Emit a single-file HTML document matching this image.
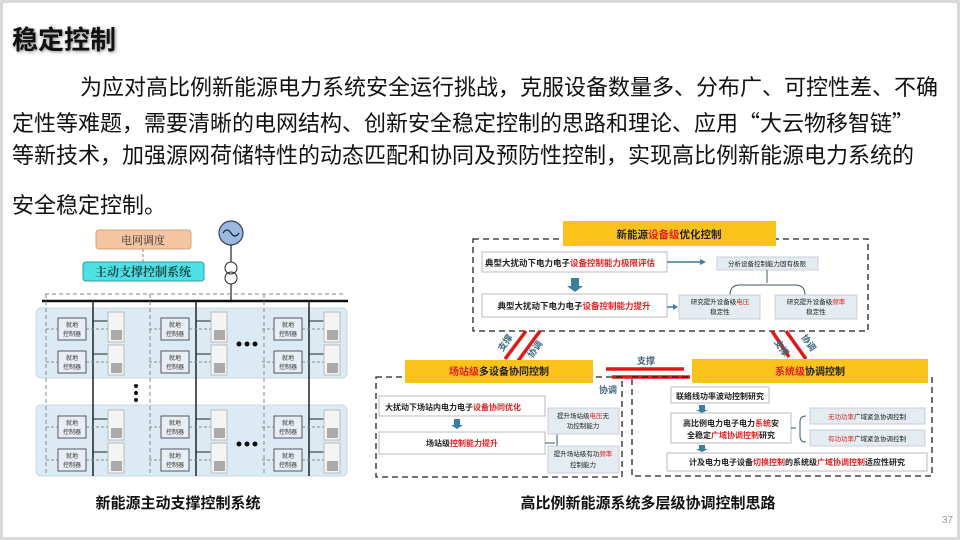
<!DOCTYPE html>
<html><head><meta charset="utf-8"><style>
body{margin:0;width:960px;height:540px;overflow:hidden;background:#fff;font-family:"Liberation Sans","Noto Sans CJK SC",sans-serif;}
.frame{position:absolute;left:0;top:0;width:954px;height:534px;border:3px solid #d9d9d9;}
.t{position:absolute;white-space:nowrap;}
.p{position:absolute;white-space:nowrap;font-size:22px;color:#111;line-height:1;}
.q{font-family:"Noto Sans CJK SC",sans-serif;}
</style></head><body>
<div class="frame"></div>
<div class="t" style="left:12px;top:20px;font-size:26px;font-weight:bold;color:#111;text-shadow:1px 1px 3px #888;">稳定控制</div>
<div class="p" style="left:80px;top:77px;">为应对高比例新能源电力系统安全运行挑战，克服设备数量多、分布广、可控性差、不确</div>
<div class="p" style="left:12px;top:111px;">定性等难题，需要清晰的电网结构、创新安全稳定控制的思路和理论、应用<span class="q">“</span>大云物移智链<span class="q">”</span></div>
<div class="p" style="left:12px;top:145px;">等新技术，加强源网荷储特性的动态匹配和协同及预防性控制，实现高比例新能源电力系统的</div>
<div class="p" style="left:12px;top:195px;">安全稳定控制。</div>

<svg style="position:absolute;left:0;top:0" width="960" height="540" font-family="Liberation Sans,Noto Sans CJK SC,sans-serif">
<rect x="96" y="230" width="95" height="19" rx="3" fill="#f5c4a0" stroke="#d9a27a"/>
<text x="143" y="244" font-size="11" text-anchor="middle" fill="#333" font-family="Noto Serif CJK SC,serif">电网调度</text>
<line x1="143" y1="249" x2="143" y2="262" stroke="#888" stroke-dasharray="3,2"/>
<rect x="83" y="262" width="121" height="19" rx="3" fill="#4fe0e3" stroke="#2a9ca0"/>
<text x="143" y="276" font-size="12" text-anchor="middle" fill="#1a4a4a" font-family="Noto Serif CJK SC,serif" font-weight="bold">主动支撑控制系统</text>
<circle cx="231" cy="233" r="12" fill="#9cb8e0" stroke="#345" stroke-width="1.2"/>
<path d="M223 233 q4 -6 8 0 t8 0" fill="none" stroke="#123" stroke-width="1.2"/>
<line x1="231" y1="245" x2="231" y2="262" stroke="#222" stroke-width="1.2"/>
<circle cx="231" cy="268" r="6" fill="none" stroke="#222"/>
<circle cx="231" cy="278" r="6" fill="none" stroke="#222"/>
<line x1="231" y1="284" x2="231" y2="301" stroke="#222" stroke-width="1.2"/>
<line x1="45" y1="294" x2="345" y2="294" stroke="#888" stroke-dasharray="4,3"/>
<line x1="42" y1="301" x2="348" y2="301" stroke="#111" stroke-width="2.5"/>
<rect x="36" y="308" width="311" height="70" rx="5" fill="#dcebf3" stroke="#c6d8e3"/>
<rect x="36" y="405" width="311" height="71" rx="5" fill="#dcebf3" stroke="#c6d8e3"/>
<g stroke="#888" stroke-dasharray="4,3">
<line x1="46" y1="294" x2="46" y2="476"/><line x1="150" y1="294" x2="150" y2="476"/><line x1="264" y1="294" x2="264" y2="476"/>
</g>
<g stroke="#222" stroke-width="1.5">
<line x1="93" y1="301" x2="93" y2="476"/><line x1="196" y1="301" x2="196" y2="476"/><line x1="309" y1="301" x2="309" y2="476"/>
</g>
<g id="cell">
<rect x="58" y="318" width="28" height="22" fill="#e8eef3" stroke="#556"/>
<text x="72" y="327" font-size="6" text-anchor="middle" fill="#333">就地</text>
<text x="72" y="336" font-size="6" text-anchor="middle" fill="#333">控制器</text>
<line x1="46" y1="329" x2="58" y2="329" stroke="#888" stroke-dasharray="3,2"/>
<line x1="86" y1="329" x2="108" y2="329" stroke="#888" stroke-dasharray="3,2"/>
<line x1="93" y1="321" x2="108" y2="321" stroke="#222"/>
<rect x="108" y="312" width="16" height="30" fill="#f4f4f4" stroke="#bbb"/>
<rect x="111" y="330" width="11" height="10" fill="#aaa"/>
</g>
<use href="#cell" y="33"/><use href="#cell" x="103"/><use href="#cell" x="103" y="33"/>
<use href="#cell" x="216"/><use href="#cell" x="216" y="33"/>
<use href="#cell" y="98"/><use href="#cell" y="131"/><use href="#cell" x="103" y="98"/><use href="#cell" x="103" y="131"/>
<use href="#cell" x="216" y="98"/><use href="#cell" x="216" y="131"/>
<g fill="#111"><circle cx="239" cy="344" r="2.5"/><circle cx="247" cy="344" r="2.5"/><circle cx="255" cy="344" r="2.5"/>
<circle cx="239" cy="444" r="2.5"/><circle cx="247" cy="444" r="2.5"/><circle cx="255" cy="444" r="2.5"/>
<circle cx="136" cy="386" r="2"/><circle cx="136" cy="393" r="2"/><circle cx="136" cy="400" r="2"/></g>
<text x="178" y="508" font-size="15" font-weight="bold" text-anchor="middle" fill="#111">新能源主动支撑控制系统</text>

<rect x="473" y="239" width="395" height="92" fill="none" stroke="#222" stroke-dasharray="6,4" stroke-width="1.3"/>
<rect x="563" y="221" width="213" height="25" fill="#fcc21c"/>
<text x="669" y="238" font-size="10.5" font-weight="bold" text-anchor="middle" fill="#222">新能源<tspan fill="#e52020">设备级</tspan>优化控制</text>
<rect x="482" y="252" width="185" height="20" fill="#fff" stroke="#bbb"/>
<text x="485" y="266" font-size="8.5" font-weight="bold" fill="#222">典型大扰动下电力电子<tspan fill="#e52020">设备控制能力极限评估</tspan></text>
<rect x="482" y="294" width="185" height="23" fill="#fff" stroke="#bbb"/>
<text x="574" y="309" font-size="8.5" font-weight="bold" text-anchor="middle" fill="#222">典型大扰动下电力电子<tspan fill="#e52020">设备控制能力提升</tspan></text>
<rect x="571" y="278" width="8" height="8" fill="#3a7fa0"/><path d="M567 286 h16 l-8 6z" fill="#3a7fa0"/>
<line x1="667" y1="262" x2="700" y2="262" stroke="#3a7fa0" stroke-width="1.5"/><path d="M700 259 l6 3 -6 3z" fill="#3a7fa0"/>
<line x1="667" y1="307" x2="673" y2="307" stroke="#3a7fa0" stroke-width="1.5"/><path d="M673 304 l5 3 -5 3z" fill="#3a7fa0"/>
<rect x="717" y="257" width="101" height="13" fill="#e4ecf1" stroke="#ccd"/>
<text x="767" y="266" font-size="6.5" text-anchor="middle" fill="#222">分析设备控制能力固有极限</text>
<path d="M767 270 v13 M730 295 q0 -10 10 -10 h55 q10 0 10 10" fill="none" stroke="#3a5a6a"/>
<rect x="679" y="295" width="81" height="24" fill="#e4ecf1" stroke="#ccd"/>
<text x="720" y="304" font-size="6.5" text-anchor="middle" fill="#222">研究提升设备级<tspan fill="#e52020">电压</tspan></text>
<text x="720" y="314" font-size="6.5" text-anchor="middle" fill="#222">稳定性</text>
<rect x="775" y="295" width="82" height="24" fill="#e4ecf1" stroke="#ccd"/>
<text x="816" y="304" font-size="6.5" text-anchor="middle" fill="#222">研究提升设备级<tspan fill="#e52020">频率</tspan></text>
<text x="816" y="314" font-size="6.5" text-anchor="middle" fill="#222">稳定性</text>
<g stroke="#e01818" stroke-width="3.5">
<line x1="526" y1="331" x2="505" y2="359"/><line x1="540" y1="331" x2="518" y2="361"/>
<line x1="772" y1="331" x2="789" y2="357"/><line x1="786" y1="331" x2="806" y2="359"/>
</g>
<text x="498" y="347" font-size="9" font-weight="bold" fill="#3a6a80" transform="rotate(-55 505 345)">支撑</text>
<text x="527" y="356" font-size="9" font-weight="bold" fill="#3a6a80" transform="rotate(-55 532 352)">协调</text>
<text x="775" y="350" font-size="9" font-weight="bold" fill="#3a6a80" transform="rotate(55 782 345)">支撑</text>
<text x="800" y="345" font-size="9" font-weight="bold" fill="#3a6a80" transform="rotate(55 808 342)">协调</text>
<text x="646" y="364" font-size="9" font-weight="bold" text-anchor="middle" fill="#3a6a80">支撑</text>
<line x1="606" y1="369" x2="684" y2="369" stroke="#e01818" stroke-width="3.5"/>
<line x1="612" y1="377" x2="690" y2="377" stroke="#e01818" stroke-width="3.5"/>
<rect x="376" y="377" width="246" height="100" fill="none" stroke="#222" stroke-dasharray="6,4" stroke-width="1.3"/>
<rect x="405" y="360" width="188" height="23" fill="#fcc21c"/>
<text x="499" y="375" font-size="10" font-weight="bold" text-anchor="middle" fill="#222"><tspan fill="#e52020">场站级</tspan>多设备协同控制</text>
<text x="617" y="393" font-size="9" font-weight="bold" text-anchor="end" fill="#3a6a80">协调</text>
<rect x="379" y="396" width="166" height="20" fill="#fff" stroke="#bbb"/>
<text x="385" y="410" font-size="8" font-weight="bold" fill="#222">大扰动下场站内电力电子<tspan fill="#e52020">设备协同优化</tspan></text>
<rect x="454" y="419" width="6" height="6" fill="#3a7fa0"/><path d="M451 425 h12 l-6 4z" fill="#3a7fa0"/>
<rect x="379" y="432" width="166" height="22" fill="#fff" stroke="#bbb"/>
<text x="462" y="446" font-size="8" font-weight="bold" text-anchor="middle" fill="#222">场站级<tspan fill="#e52020">控制能力提升</tspan></text>
<path d="M545 443 h10 M565 424 q-8 0 -8 8 v22 q0 8 8 8" fill="none" stroke="#3a5a6a"/>
<rect x="548" y="408" width="71" height="26" fill="#e4ecf1" stroke="#ccd"/>
<text x="583" y="418" font-size="6.5" text-anchor="middle" fill="#222">提升场站级<tspan fill="#e52020">电压</tspan>无</text>
<text x="583" y="428" font-size="6.5" text-anchor="middle" fill="#222">功控制能力</text>
<rect x="548" y="446" width="71" height="27" fill="#e4ecf1" stroke="#ccd"/>
<text x="583" y="456" font-size="6.5" text-anchor="middle" fill="#222">提升场站级有功<tspan fill="#e52020">频率</tspan></text>
<text x="583" y="467" font-size="6.5" text-anchor="middle" fill="#222">控制能力</text>
<rect x="632" y="377" width="300" height="99" fill="none" stroke="#222" stroke-dasharray="6,4" stroke-width="1.3"/>
<rect x="692" y="359" width="236" height="24" fill="#fcc21c"/>
<text x="810" y="375" font-size="10" font-weight="bold" text-anchor="middle" fill="#222"><tspan fill="#e52020">系统级</tspan>协调控制</text>
<rect x="671" y="387" width="98" height="16" fill="#fff" stroke="#bbb"/>
<text x="720" y="399" font-size="8" font-weight="bold" text-anchor="middle" fill="#222">联络线功率波动控制研究</text>
<rect x="699" y="405" width="6" height="5" fill="#3a7fa0"/><path d="M696 410 h12 l-6 3z" fill="#3a7fa0"/>
<rect x="671" y="413" width="120" height="30" fill="#fff" stroke="#bbb"/>
<text x="731" y="426" font-size="8" font-weight="bold" text-anchor="middle" fill="#222">高比例电力电子电力<tspan fill="#e52020">系统</tspan>安</text>
<text x="731" y="438" font-size="8" font-weight="bold" text-anchor="middle" fill="#222">全稳定<tspan fill="#e52020">广域协调控制</tspan>研究</text>
<rect x="699" y="445" width="6" height="4" fill="#3a7fa0"/><path d="M696 449 h12 l-6 3z" fill="#3a7fa0"/>
<path d="M791 428 h5 M806 416 q-6 0 -6 6 v14 q0 6 6 6" fill="none" stroke="#3a5a6a"/>
<rect x="810" y="408" width="115" height="16" fill="#e4ecf1" stroke="#ccd"/>
<text x="867" y="419" font-size="6.5" text-anchor="middle" fill="#222"><tspan fill="#e52020">无功功率</tspan>广域紧急协调控制</text>
<rect x="810" y="430" width="115" height="16" fill="#e4ecf1" stroke="#ccd"/>
<text x="867" y="441" font-size="6.5" text-anchor="middle" fill="#222"><tspan fill="#e52020">有功功率</tspan>广域紧急协调控制</text>
<rect x="667" y="453" width="260" height="18" fill="#fff" stroke="#bbb"/>
<text x="797" y="465" font-size="8" font-weight="bold" text-anchor="middle" fill="#222">计及电力电子设备<tspan fill="#e52020">切换控制</tspan>的系统级<tspan fill="#e52020">广域协调控制</tspan>适应性研究</text>
<text x="648" y="508" font-size="15" font-weight="bold" text-anchor="middle" fill="#111">高比例新能源系统多层级协调控制思路</text>
<text x="942" y="523" font-size="10" fill="#999">37</text>
</svg>
</body></html>
